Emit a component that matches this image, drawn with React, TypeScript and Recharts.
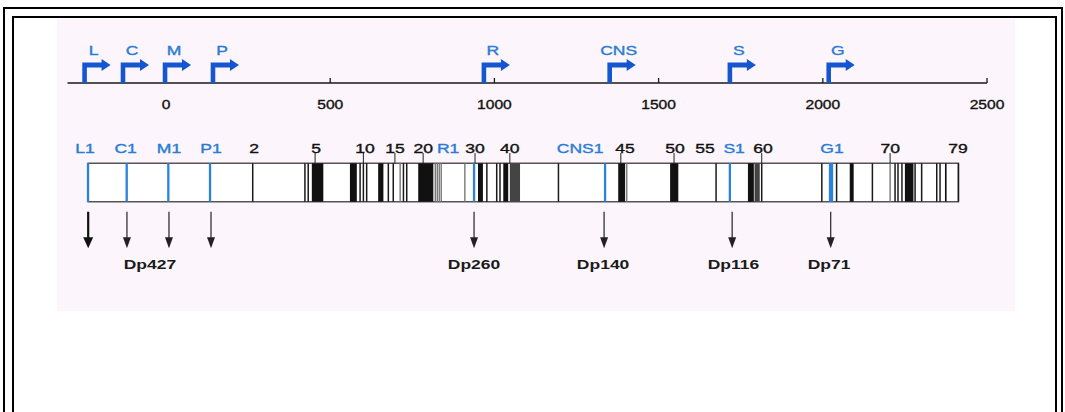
import React from 'react';
import { ComposedChart, XAxis, YAxis, Scatter, ReferenceArea } from 'recharts';

// ---------- data ----------
const kbDomain: [number, number] = [-300, 2500];
const axisTicks = [0, 500, 1000, 1500, 2000, 2500];

const promoterNames = ['L', 'C', 'M', 'P', 'R', 'CNS', 'S', 'G'];
const promoterKb = [-248, -131, -3, 143, 968, 1351, 1717, 2018];

const geneStartKb = -237.5;
const geneEndKb = 2413;

const firstExonKb = [-237.5, -119.7, 7, 134, 938, 1337, 1717, 2022, 2028];
const exonLineKb = [264, 423, 433, 591, 601, 611, 677, 692, 723, 733, 977, 1007, 1017, 1195, 1675, 1814, 1997, 2042, 2151, 2220, 2229, 2241, 2281, 2301, 2347, 2357, 2413];
const exonGrayLineKb = [713, 820, 826, 832, 838, 910, 1403, 2205];
const exonBlockStartKb = [444, 560, 646, 768, 950, 1027, 1377, 1535, 1772, 2082, 2250, 2372];
const exonBlockEndKb = [479, 581, 662, 814, 965, 1042, 1398, 1560, 1790, 2094, 2276, 2377];
const exonDarkBlockStartKb = [1047, 1792];
const exonDarkBlockEndKb = [1078, 1808];

const exonLabels = ['L1', 'C1', 'M1', 'P1', '2', '5', '10', '15', '20', 'R1', '30', '40', 'CNS1', '45', '50', '55', 'S1', '60', 'G1', '70', '79'];
const exonLabelKb = [-247, -123, 9, 137, 268, 457, 606, 697, 783, 859, 941, 1047, 1261, 1398, 1550, 1641, 1730, 1818, 2028, 2205, 2412];
const exonTickKb = [454, 601, 697, 783, 941, 1047, 1385, 1547, 1814, 2205];

const isoformArrowKb = [-237, -119, 9, 137, 938, 1334, 1724, 2024];
const isoformNames = ['Dp427', 'Dp260', 'Dp140', 'Dp116', 'Dp71'];
const isoformLabelKb = [-49, 938, 1331, 1728, 2019];

// ---------- layout constants ----------
const W = 1065;
const MARGIN_L = 67.5;
const MARGIN_R = 78;
const BAR_TOP = 43.3;
const BAR_BOTTOM = 81.7;
const LABEL_Y = 32.5;
const ARROW_TOP = 91.7;
const ARROW_LEN = 36.6;
const ISO_LABEL_Y = 149;

const FONT = '"Liberation Sans", Arial, Helvetica, sans-serif';
const PROMOTER_BLUE = '#1456d0';
const LABEL_BLUE = '#2a7bd4';
const EXON_BLUE = '#2a82e0';

const SText = ({ x, y, text, fill = '#111', size = 13, sx = 1.35, weight = 'normal', sw = 0.35 }: any) => (
  <text
    transform={`translate(${x},${y}) scale(${sx},1)`}
    textAnchor="middle"
    fontFamily={FONT}
    fontSize={size}
    fill={fill}
    stroke={fill}
    strokeWidth={sw}
    fontWeight={weight}
  >
    {text}
  </text>
);

const AxisTick = (props: any) => {
  const { x, y, payload } = props;
  return (
    <g>
      {payload.value !== 0 && <line x1={x} x2={x} y1={y} y2={y - 5} stroke="#1a1a1a" strokeWidth={1.3} />}
      <SText x={x} y={y + 26} text={String(payload.value)} sx={1.2} />
    </g>
  );
};

const PromoterShape = (props: any) => {
  const { cx, cy, payload } = props;
  const d = `M${cx - 2.3},${cy} L${cx - 2.3},${cy - 20.5} L${cx + 17},${cy - 20.5} L${cx + 17},${cy - 24}
    L${cx + 26},${cy - 18} L${cx + 17},${cy - 12} L${cx + 17},${cy - 15.5} L${cx + 2.3},${cy - 15.5} L${cx + 2.3},${cy} Z`;
  return (
    <g>
      <path d={d} fill={PROMOTER_BLUE} />
      <SText x={cx + 9} y={cy - 28} text={payload.name} fill={LABEL_BLUE} sx={1.35} />
    </g>
  );
};

const lineShape = (color: string, width: number) => (props: any) => {
  const { cx, cy } = props;
  return <line x1={cx} x2={cx} y1={cy} y2={cy - (BAR_BOTTOM - BAR_TOP)} stroke={color} strokeWidth={width} />;
};

const TickShape = (props: any) => {
  const { cx, cy } = props;
  return <line x1={cx} x2={cx} y1={cy} y2={cy - (BAR_TOP - LABEL_Y - 0.5)} stroke="#222" strokeWidth={1} />;
};

const ExonLabelShape = (props: any) => {
  const { cx, cy, payload } = props;
  const blue = /^[A-Z]/.test(payload.name);
  return <SText x={cx} y={cy} text={payload.name} fill={blue ? LABEL_BLUE : '#111'} sx={1.35} />;
};

const ArrowShape = (props: any) => {
  const { cx, cy, index } = props;
  const strong = index === 0;
  const headLen = 11;
  const hw = strong ? 5 : 4;
  const tip = cy + ARROW_LEN;
  return (
    <g>
      <line x1={cx} x2={cx} y1={cy} y2={tip - headLen + 1} stroke={strong ? '#111' : '#333'} strokeWidth={strong ? 2.2 : 1.3} />
      <path d={`M${cx - hw},${tip - headLen} L${cx + hw},${tip - headLen} L${cx},${tip} Z`} fill={strong ? '#111' : '#222'} />
    </g>
  );
};

const IsoLabelShape = (props: any) => {
  const { cx, cy, payload } = props;
  return <SText x={cx} y={cy} text={payload.name} fill="#1a1a1a" sx={1.4} weight="bold" size={12.5} sw={0} />;
};

export default function App() {
  const promoterData = promoterNames.map((name, i) => ({ kb: promoterKb[i], y: 0, name }));
  const firstExonData = firstExonKb.map((kb) => ({ kb, y: BAR_BOTTOM }));
  const exonLineData = exonLineKb.map((kb) => ({ kb, y: BAR_BOTTOM }));
  const exonGrayData = exonGrayLineKb.map((kb) => ({ kb, y: BAR_BOTTOM }));
  const tickData = exonTickKb.map((kb) => ({ kb, y: BAR_TOP }));
  const labelData = exonLabels.map((name, i) => ({ kb: exonLabelKb[i], y: LABEL_Y, name }));
  const arrowData = isoformArrowKb.map((kb) => ({ kb, y: ARROW_TOP }));
  const isoData = isoformNames.map((name, i) => ({ kb: isoformLabelKb[i], y: ISO_LABEL_Y, name }));

  return (
    <div style={{ position: 'absolute', left: 0, top: 0, width: W, height: 412, overflow: 'hidden', background: '#fff' }}>
      <div style={{ position: 'absolute', left: 3, top: 7, width: 1060, height: 430, boxSizing: 'border-box', borderTop: '2px solid #000', borderLeft: '2px solid #000', borderRight: '2px solid #000' }} />
      <div style={{ position: 'absolute', left: 11.5, top: 15.5, width: 1045, height: 430, boxSizing: 'border-box', borderTop: '2px solid #000', borderLeft: '2px solid #000', borderRight: '2px solid #000' }} />
      <div style={{ position: 'absolute', left: 57, top: 19, width: 958, height: 292, background: '#fcf5fb' }} />

      <div style={{ position: 'absolute', left: 0, top: 0 }}>
        <ComposedChart width={W} height={115} margin={{ top: 20, right: MARGIN_R, left: MARGIN_L, bottom: 2 }}>
          <XAxis
            dataKey="kb"
            type="number"
            domain={kbDomain}
            ticks={axisTicks}
            allowDataOverflow
            height={30}
            tickSize={0}
            tickMargin={0}
            tickLine={false}
            axisLine={{ stroke: '#1a1a1a', strokeWidth: 1.5 }}
            tick={<AxisTick />}
            interval={0}
          />
          <YAxis dataKey="y" type="number" domain={[0, 1]} hide />
          <Scatter data={promoterData} shape={<PromoterShape />} isAnimationActive={false} />
        </ComposedChart>
      </div>

      <div style={{ position: 'absolute', left: 0, top: 120 }}>
        <ComposedChart width={W} height={180} margin={{ top: 0, right: MARGIN_R, left: MARGIN_L, bottom: 0 }}>
          <XAxis dataKey="kb" type="number" domain={kbDomain} allowDataOverflow hide />
          <YAxis dataKey="y" type="number" domain={[0, 180]} reversed allowDataOverflow hide />
          <ReferenceArea x1={geneStartKb} x2={geneEndKb} y1={BAR_TOP} y2={BAR_BOTTOM} fill="#ffffff" fillOpacity={1} stroke="#555" strokeWidth={1.4} ifOverflow="visible" />
          {exonBlockStartKb.map((s, i) => (
            <ReferenceArea key={`b${i}`} x1={s} x2={exonBlockEndKb[i]} y1={BAR_TOP} y2={BAR_BOTTOM} fill="#111" fillOpacity={1} ifOverflow="visible" />
          ))}
          {exonDarkBlockStartKb.map((s, i) => (
            <ReferenceArea key={`d${i}`} x1={s} x2={exonDarkBlockEndKb[i]} y1={BAR_TOP} y2={BAR_BOTTOM} fill="#444" fillOpacity={1} ifOverflow="visible" />
          ))}
          <Scatter data={exonGrayData} shape={lineShape('#777', 1.4)} isAnimationActive={false} />
          <Scatter data={exonLineData} shape={lineShape('#1a1a1a', 1.5)} isAnimationActive={false} />
          <Scatter data={firstExonData} shape={lineShape(EXON_BLUE, 2.3)} isAnimationActive={false} />
          <Scatter data={tickData} shape={<TickShape />} isAnimationActive={false} />
          <Scatter data={labelData} shape={<ExonLabelShape />} isAnimationActive={false} />
          <Scatter data={arrowData} shape={<ArrowShape />} isAnimationActive={false} />
          <Scatter data={isoData} shape={<IsoLabelShape />} isAnimationActive={false} />
        </ComposedChart>
      </div>
    </div>
  );
}
